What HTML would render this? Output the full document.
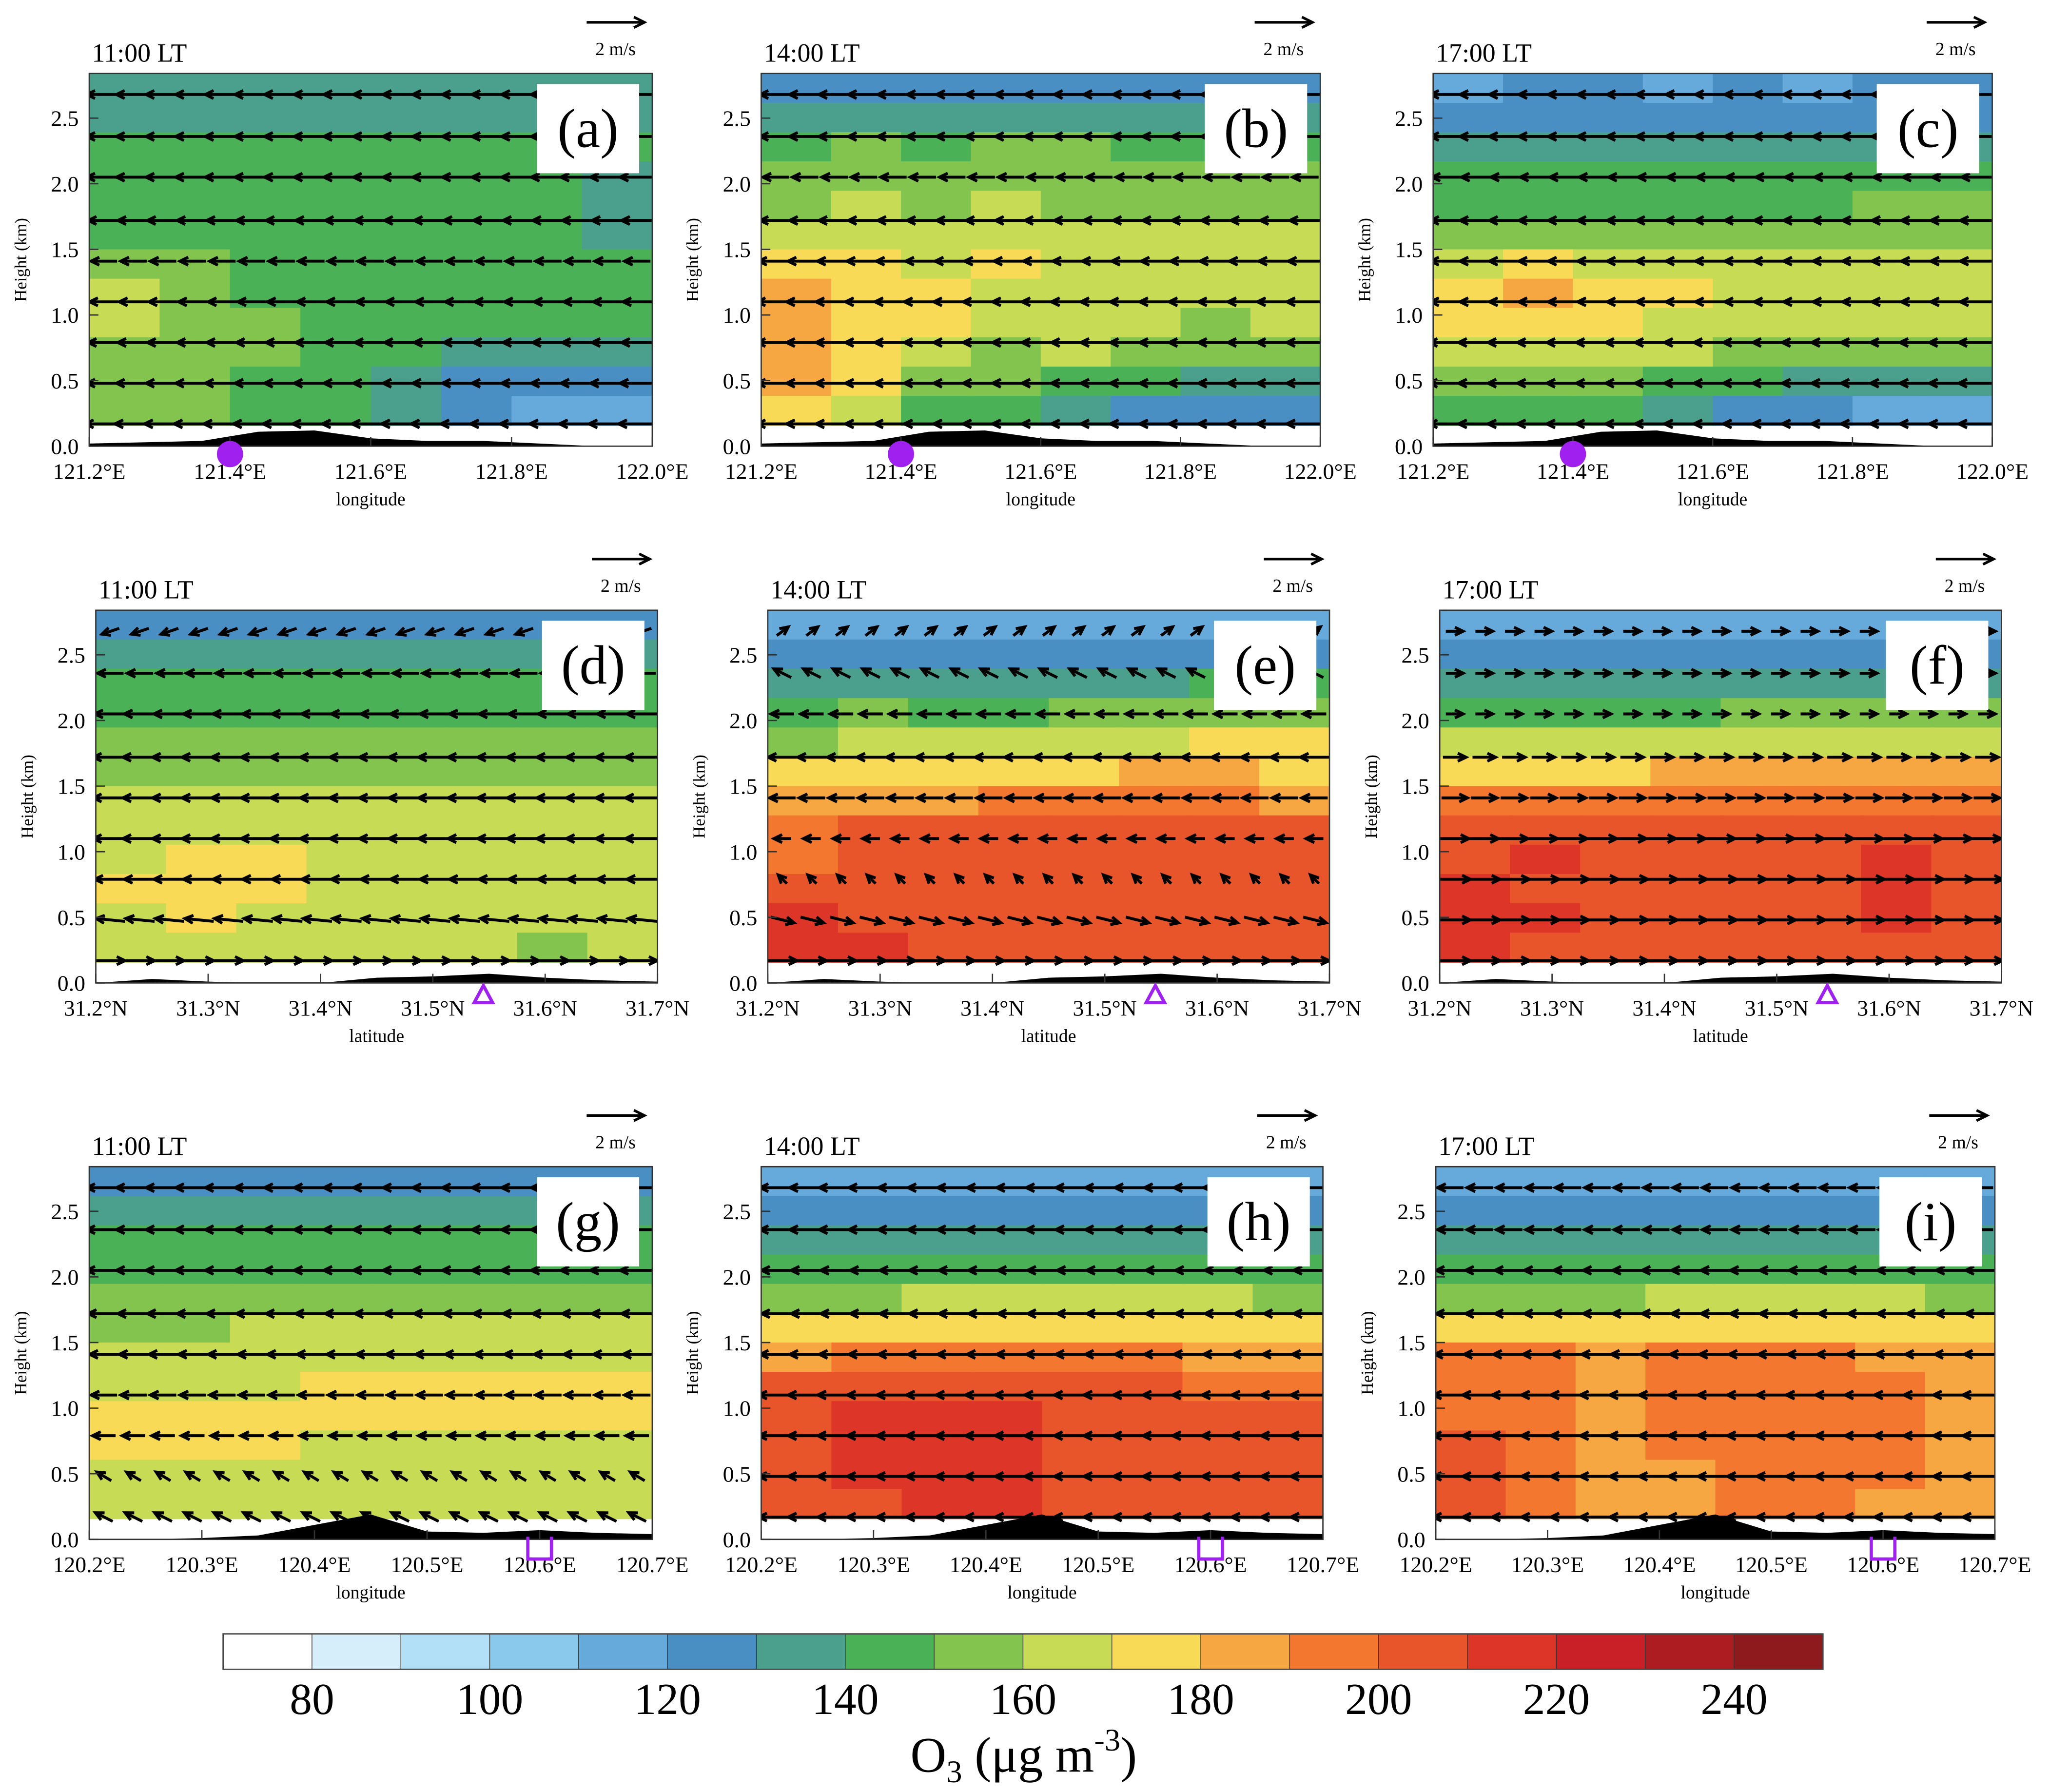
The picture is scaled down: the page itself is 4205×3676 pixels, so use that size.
<!DOCTYPE html>
<html><head><meta charset="utf-8"><style>
html,body{margin:0;padding:0;background:#fff;}
svg{display:block;font-family:"Liberation Serif",serif;}
</style></head><body>
<svg id="fig" width="4205" height="3676" viewBox="0 0 1562 1365.5" preserveAspectRatio="none" xmlns="http://www.w3.org/2000/svg"></svg>
<script>
// colour levels (lower bound of each bin, µg m-3)
const levels = [70,80,90,100,110,120,130,140,150,160,170,180,190,200,210,220,230,240];
const cbLabels = [80,100,120,140,160,180,200,220,240];
const heightTicks = [0.0,0.5,1.0,1.5,2.0,2.5];
const lonTicksTop = ["121.2°E","121.4°E","121.6°E","121.8°E","122.0°E"];
const latTicks = ["31.2°N","31.3°N","31.4°N","31.5°N","31.6°N","31.7°N"];
const lonTicksBot = ["120.2°E","120.3°E","120.4°E","120.5°E","120.6°E","120.7°E"];
const windHeights = [0.17,0.48,0.79,1.10,1.41,1.72,2.05,2.36,2.68];

// O3 grids: rows top (2.84 km) -> bottom (0.16 km), 8 columns west->east / south->north
const gridA = [
[132,132,132,132,132,132,132,132],[135,135,135,135,135,135,135,135],[145,145,145,145,145,145,145,145],
[145,145,145,145,145,145,145,135],[145,145,145,145,145,145,145,135],[145,145,145,145,145,145,145,135],
[155,155,145,145,145,145,145,145],[165,155,145,145,145,145,145,145],[165,155,155,145,145,145,145,145],
[155,155,155,145,145,135,135,135],[155,155,145,145,135,125,125,125],[155,155,145,145,135,125,115,115]];
const gridB = [
[125,125,125,125,125,125,125,125],[135,135,135,135,135,135,135,135],[145,155,145,155,155,145,145,145],
[155,155,155,155,155,155,155,155],[155,165,155,165,155,155,155,155],[165,165,165,165,165,165,165,165],
[175,175,165,175,165,165,165,165],[185,175,175,165,165,165,165,165],[185,175,175,165,165,165,155,165],
[185,175,165,155,165,155,155,155],[185,175,155,155,145,145,135,135],[175,165,145,145,135,125,125,125]];
const gridC = [
[115,120,120,115,120,115,120,120],[125,125,125,125,125,125,125,125],[135,135,135,135,135,135,135,135],
[145,145,145,145,145,145,145,145],[145,145,145,145,145,145,155,155],[155,155,155,155,155,155,155,155],
[165,175,165,165,165,165,165,165],[175,185,175,175,165,165,165,165],[175,175,175,165,165,165,165,165],
[165,165,165,165,155,155,155,155],[155,155,155,145,145,135,135,135],[145,145,145,135,125,125,115,115]];
const gridD = [
[125,125,125,125,125,125,125,125],[135,135,135,135,135,135,135,135],[145,145,145,145,145,145,145,145],
[145,145,145,145,145,145,145,145],[155,155,155,155,155,155,155,155],[155,155,155,155,155,155,155,155],
[165,165,165,165,165,165,165,165],[165,165,165,165,165,165,165,165],[165,175,175,165,165,165,165,165],
[175,175,175,165,165,165,165,165],[165,175,165,165,165,165,165,165],[165,165,165,165,165,165,155,165]];
const gridE = [
[115,115,115,115,115,115,115,115],[125,125,125,125,125,125,125,125],[135,135,135,135,135,135,145,145],
[145,155,145,145,155,155,155,155],[155,165,165,165,165,165,175,175],[175,175,175,175,175,185,185,175],
[185,185,185,195,195,195,195,185],[195,205,205,205,205,205,205,205],[195,205,205,205,205,205,205,205],
[205,205,205,205,205,205,205,205],[215,205,205,205,205,205,205,205],[215,215,205,205,205,205,205,205]];
const gridF = [
[115,115,115,115,115,115,115,115],[125,125,125,125,125,125,125,125],[135,135,135,135,135,135,135,135],
[145,145,145,145,155,155,155,155],[165,165,165,165,165,165,165,165],[175,175,175,185,185,185,185,185],
[195,195,195,195,195,195,195,195],[205,205,205,205,205,205,205,205],[205,215,205,205,205,205,215,205],
[215,205,205,205,205,205,215,205],[215,215,205,205,205,205,215,205],[215,205,205,205,205,205,205,205]];
const gridG = [
[125,125,125,125,125,125,125,125],[135,135,135,135,135,135,135,135],[145,145,145,145,145,145,145,145],
[145,145,145,145,145,145,145,145],[155,155,155,155,155,155,155,155],[155,155,165,165,165,165,165,165],
[165,165,165,165,165,165,165,165],[165,165,165,175,175,175,175,175],[175,175,175,175,175,175,175,175],
[175,175,175,165,165,165,165,165],[165,165,165,165,165,165,165,165],[165,165,165,165,165,165,165,165]];
const gridH = [
[115,115,115,115,115,115,115,115],[125,125,125,125,125,125,125,125],[135,135,135,135,135,135,135,135],
[145,145,145,145,145,145,145,145],[155,155,165,165,165,165,165,155],[175,175,175,175,175,175,175,175],
[185,195,195,195,195,195,185,185],[205,205,205,205,205,205,195,195],[205,215,215,215,205,205,205,205],
[205,215,215,215,205,205,205,205],[205,215,215,215,205,205,205,205],[205,205,215,215,205,205,205,205]];
const gridI = [
[115,115,115,115,115,115,115,115],[125,125,125,125,125,125,125,125],[135,135,135,135,135,135,135,135],
[145,145,145,145,145,145,145,145],[155,155,155,165,165,165,165,155],[175,175,175,175,175,175,175,175],
[195,195,185,195,195,195,185,185],[195,195,185,195,195,195,195,185],[195,195,185,195,195,195,195,185],
[205,195,185,195,195,195,195,185],[205,195,185,185,195,195,195,185],[205,195,185,185,195,195,185,185]];

// wind (m/s) per wind row, bottom -> top
const uA = [-1.3,-1.2,-1.1,-1.0,-0.9,-1.1,-1.2,-1.2,-1.2];
const vA = [0,0,0,0,0,0,0,0,0];
const uB = [-1.3,-1.3,-1.3,-1.3,-1.2,-1.1,-0.9,-1.1,-1.1];
const vB = [0,0,0,0,0,0,0,0,0];
const uC = [-1.3,-1.3,-1.3,-1.2,-1.2,-1.2,-1.1,-1.2,-1.2];
const vC = [0,0,0,0,0,0,0,0,0];
const uD = [1.0,-1.0,-1.1,-1.2,-1.2,-1.2,-1.1,-0.9,-0.6];
const vD = [0,0.1,0,0,0,0,0,0,-0.2];
const uE = [1.0,0.8,-0.3,-0.6,-0.9,-1.0,-0.8,-0.6,0.4];
const vE = [0,-0.2,0.3,0,0,0,0,0.3,0.3];
const uF = [1.1,1.1,1.1,1.0,0.9,0.8,0.6,0.6,0.6];
const vF = [0,0,0,0,0,0,0,0,0];
const uG = [-0.6,-0.5,-0.8,-0.9,-1.0,-1.1,-1.2,-1.2,-1.2];
const vG = [0.3,0.3,0,0,0,0,0,0,0];
const uH = [-1.2,-1.2,-1.2,-1.2,-1.1,-1.0,-1.0,-1.1,-1.1];
const vH = [0,0,0,0,0,0,0,0,0];
const uI = [-1.2,-1.2,-1.2,-1.2,-1.1,-1.0,-1.0,-0.9,-0.9];
const vI = [0,0,0,0,0,0,0,0,0];

// terrain height (km) along the section, 11 samples
const terrTop = [0.02,0.03,0.04,0.11,0.12,0.06,0.04,0.04,0.02,0.0,0.0];
const terrMid = [0.0,0.03,0.01,0.0,0.0,0.04,0.05,0.07,0.04,0.02,0.01];
const terrBot = [0.0,0.0,0.01,0.03,0.11,0.19,0.06,0.05,0.07,0.05,0.04];

const colors = ["#ffffff","#d6eefa","#b1e0f7","#8ac8ec","#66a9db","#4a8fc3","#4aa08d","#4bb156","#82c44e","#c8db55","#f8da56","#f6a742","#f3772f","#e8552b","#dd3629","#c91f27","#ac1c21","#8e1a1d"];

const NS="http://www.w3.org/2000/svg";
const svg=document.getElementById('fig');
function mk(tag,attrs,parent){const e=document.createElementNS(NS,tag);for(const k in attrs)e.setAttribute(k,attrs[k]);(parent||svg).appendChild(e);return e;}
function colorOf(v){let i=Math.floor((v-70)/10);i=Math.max(0,Math.min(colors.length-1,i));return colors[i];}
const defs=mk('defs',{});

const TOP_KM=2.84, BASE_KM=0.16;
const panels=[
{id:'a',x0:68,x1:497,y0:56,y1:340,time:'11:00  LT',grid:gridA,u:uA,v:vA,terr:terrTop,ticks:lonTicksTop,xl:'longitude',mark:'circle',mf:0.25},
{id:'b',x0:580,x1:1006,y0:56,y1:340,time:'14:00  LT',grid:gridB,u:uB,v:vB,terr:terrTop,ticks:lonTicksTop,xl:'longitude',mark:'circle',mf:0.25},
{id:'c',x0:1092,x1:1518,y0:56,y1:340,time:'17:00  LT',grid:gridC,u:uC,v:vC,terr:terrTop,ticks:lonTicksTop,xl:'longitude',mark:'circle',mf:0.25},
{id:'d',x0:73,x1:501,y0:465,y1:749,time:'11:00  LT',grid:gridD,u:uD,v:vD,terr:terrMid,ticks:latTicks,xl:'latitude',mark:'tri',mf:0.69},
{id:'e',x0:585,x1:1013,y0:465,y1:749,time:'14:00  LT',grid:gridE,u:uE,v:vE,terr:terrMid,ticks:latTicks,xl:'latitude',mark:'tri',mf:0.69},
{id:'f',x0:1097,x1:1525,y0:465,y1:749,time:'17:00  LT',grid:gridF,u:uF,v:vF,terr:terrMid,ticks:latTicks,xl:'latitude',mark:'tri',mf:0.69},
{id:'g',x0:68,x1:497,y0:889,y1:1173,time:'11:00  LT',grid:gridG,u:uG,v:vG,terr:terrBot,ticks:lonTicksBot,xl:'longitude',mark:'sq',mf:0.8},
{id:'h',x0:580,x1:1008,y0:889,y1:1173,time:'14:00  LT',grid:gridH,u:uH,v:vH,terr:terrBot,ticks:lonTicksBot,xl:'longitude',mark:'sq',mf:0.8},
{id:'i',x0:1094,x1:1520,y0:889,y1:1173,time:'17:00  LT',grid:gridI,u:uI,v:vI,terr:terrBot,ticks:lonTicksBot,xl:'longitude',mark:'sq',mf:0.8}];

panels.forEach(p=>{
  const g=mk('g',{});
  
  
  const W=p.x1-p.x0, H=p.y1-p.y0;
  const cp=mk('clipPath',{id:'clip-'+p.id},defs);
  mk('rect',{x:p.x0,y:p.y0,width:W,height:H},cp);
  const inner=mk('g',{'clip-path':'url(#clip-'+p.id+')'},g);
  const yS=km=>p.y1-km/TOP_KM*H;
  const xS=f=>p.x0+f*W;
  const nr=p.grid.length, nc=p.grid[0].length;
  const rowH=(TOP_KM-BASE_KM)/nr;
  p.grid.forEach((row,ri)=>{row.forEach((val,ci)=>{
    const c=mk('rect',{x:xS(ci/nc),y:yS(TOP_KM-ri*rowH),width:W/nc+0.6,height:rowH/TOP_KM*H+0.6,fill:colorOf(val)},inner);
    
    
  });});
  let pts=[xS(0)+','+p.y1];
  p.terr.forEach((t,i)=>{pts.push(xS(i/(p.terr.length-1))+','+yS(t));});
  pts.push(xS(1)+','+p.y1);
  const ter=mk('polygon',{points:pts.join(' '),fill:'#000'},inner);
  
  
  const nA=19;
  p.u.forEach((u,ri)=>{
    const v=p.v[ri]; const y=yS(windHeights[ri]);
    for(let k=0;k<nA;k++){
      const x=p.x0+(k+0.5)*W/nA;
      const dx=u*22, dy=-v*22;
      const xs=x-dx/2, ys=y-dy/2, xe=x+dx/2, ye=y+dy/2;
      const L=Math.hypot(dx,dy)||1, ux=dx/L, uy=dy/L;
      const hl=7, a=0.45;
      const h1x=xe-hl*(ux*Math.cos(a)-uy*Math.sin(a)), h1y=ye-hl*(uy*Math.cos(a)+ux*Math.sin(a));
      const h2x=xe-hl*(ux*Math.cos(a)+uy*Math.sin(a)), h2y=ye-hl*(uy*Math.cos(a)-ux*Math.sin(a));
      const ar=mk('path',{d:`M${xs},${ys}L${xe},${ye}M${h1x},${h1y}L${xe},${ye}L${h2x},${h2y}`,stroke:'#000','stroke-width':2.2,fill:'none'},inner);
      
      
    }
  });
  const fr=mk('rect',{x:p.x0,y:p.y0,width:W,height:H,fill:'none',stroke:'#333','stroke-width':1},g);
  
  
  heightTicks.forEach(t=>{
    const y=yS(t);
    mk('line',{x1:p.x0,x2:p.x0+7,y1:y,y2:y,stroke:'#333','stroke-width':1},g);
    const tx=mk('text',{x:p.x0-8,y:y+6,'font-size':17,'text-anchor':'end'},g);
    tx.textContent=t.toFixed(1);
    
    
  });
  const yl=mk('text',{x:0,y:0,'font-size':13,'text-anchor':'middle',transform:`translate(${p.x0-48},${(p.y0+p.y1)/2}) rotate(-90)`},g);
  yl.textContent='Height (km)';
  
  
  p.ticks.forEach((t,i)=>{
    const x=xS(i/(p.ticks.length-1));
    mk('line',{x1:x,x2:x,y1:p.y1,y2:p.y1-7,stroke:'#333','stroke-width':1},g);
    const tx=mk('text',{x:x,y:p.y1+25,'font-size':17,'text-anchor':'middle'},g);
    tx.textContent=t;
    
    
  });
  const xl=mk('text',{x:(p.x0+p.x1)/2,y:p.y1+45,'font-size':14,'text-anchor':'middle'},g);
  xl.textContent=p.xl;
  
  
  const mx=xS(p.mf);
  let m;
  if(p.mark==='circle') m=mk('ellipse',{cx:mx,cy:p.y1+6,rx:10,ry:10,fill:'#a020f0'},g);
  else if(p.mark==='tri') m=mk('polygon',{points:`${mx},${p.y1+2} ${mx-7},${p.y1+15} ${mx+7},${p.y1+15}`,fill:'none',stroke:'#a020f0','stroke-width':2.5},g);
  else m=mk('path',{d:`M${mx-9},${p.y1-2}L${mx-9},${p.y1+15}L${mx+9},${p.y1+15}L${mx+9},${p.y1-2}`,fill:'none',stroke:'#a020f0','stroke-width':2.5},g);
  
  
  const bx=mk('rect',{x:p.x1-88,y:p.y0+8,width:78,height:68,fill:'#fff'},g);
  
  
  const lb=mk('text',{x:p.x1-49,y:p.y0+56,'font-size':42,'text-anchor':'middle'},g);
  lb.textContent='('+p.id+')';
  
  
  const tt=mk('text',{x:p.x0+2,y:p.y0-9,'font-size':20},g);
  tt.textContent=p.time;
  
  
  const rx1=p.x1-50, rx2=p.x1-6, ry=p.y0-39;
  const ra=mk('path',{d:`M${rx1},${ry}L${rx2},${ry}M${rx2-8},${ry-4}L${rx2},${ry}L${rx2-8},${ry+4}`,stroke:'#000','stroke-width':2,fill:'none'},g);
  
  
  const rt=mk('text',{x:p.x1-28,y:p.y0-14,'font-size':14,'text-anchor':'middle'},g);
  rt.textContent='2 m/s';
  
  
});

const cb=mk('g',{});


const cbX0=170, cbX1=1389, cbY0=1245, cbY1=1272;
const bw=(cbX1-cbX0)/levels.length;
levels.forEach((lv,i)=>{
  const r=mk('rect',{x:cbX0+i*bw,y:cbY0,width:bw,height:cbY1-cbY0,fill:colorOf(lv+5),stroke:'#333','stroke-width':0.5},cb);
  
  
});
mk('rect',{x:cbX0,y:cbY0,width:cbX1-cbX0,height:cbY1-cbY0,fill:'none',stroke:'#444','stroke-width':1},cb);
cbLabels.forEach(v=>{
  const x=cbX0+(v-70)/10*bw;
  const t=mk('text',{x:x,y:1306,'font-size':34,'text-anchor':'middle'},cb);
  t.textContent=v;
  
  
});
const ct=mk('text',{x:780,y:1350,'font-size':38,'text-anchor':'middle'},cb);
ct.innerHTML='O<tspan font-size="24" dy="8">3</tspan><tspan dy="-8"> (μg m</tspan><tspan font-size="24" dy="-16">-3</tspan><tspan dy="16">)</tspan>';


</script>
</body></html>
